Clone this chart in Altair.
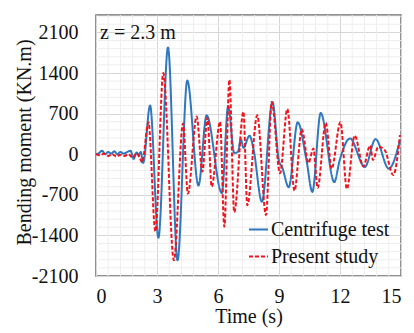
import altair as alt
import pandas as pd

# ---- data ----
series_names = ["Centrifuge test", "Present study"]

cent_t = [0.0, 0.15, 0.3, 0.45, 0.6, 0.75, 0.9, 1.05, 1.2, 1.35, 1.55, 1.7, 1.85, 2.0, 2.1, 2.2, 2.32,
          2.66, 3.07, 3.54, 4.01, 4.49, 5.04, 5.44, 6.19, 6.5, 6.8, 6.98, 7.12, 7.25, 7.55, 7.75,
          8.16, 8.68, 9.0, 9.15, 9.48, 9.92, 10.35, 10.64, 11.05, 11.72, 11.98, 12.49, 13.22,
          13.75, 14.4, 14.95]
cent_v = [0, 20, 60, 0, 40, 10, 50, 0, 40, 10, 40, 60, -80, 30, -20, 40, -150,
          840, -1440, 1840, -1830, 1270, -540, 670, -670, 830, 20, 40, 260, 110, 320, 80,
          -820, 900, -120, -220, -570, 550, -100, -650, 710, -480, -110, 270, -220,
          260, -250, 240]

pres_t = [0.0, 0.2, 0.4, 0.6, 0.8, 1.0, 1.2, 1.4, 1.6, 1.8, 2.0, 2.15, 2.27,
          2.58, 2.92, 3.31, 3.83, 4.28, 4.52, 4.95, 5.23, 5.48, 5.69, 6.1, 6.31, 6.56, 6.8,
          7.25, 7.44, 7.93, 8.36, 8.64, 9.05, 9.41, 9.76, 10.12, 10.45, 10.69, 10.9, 11.3,
          11.59, 12.02, 12.34, 12.72, 13.15, 13.48, 13.62, 13.89, 14.2, 14.62, 14.95]
pres_v = [0, -20, 10, -30, 0, -40, -10, -30, 0, -60, 20, -60, -140,
          550, -1330, 1400, -1830, 530, -680, 650, -300, 630, -560, 560, -1250, 1280, -1000,
          730, -880, 670, -1050, 900, -330, 780, -630, 430, -150, 100, -580, 540,
          -250, 550, -600, 320, -210, 150, -100, 130, 70, -360, 330]

x_ticks = [0, 3, 6, 9, 12, 15]
y_ticks = [-2100, -1400, -700, 0, 700, 1400, 2100]
x_minor = [0.6, 1.2, 1.8, 2.4, 3.6, 4.2, 4.8, 5.4, 6.6, 7.2, 7.8, 8.4,
           9.6, 10.2, 10.8, 11.4, 12.6, 13.2, 13.8, 14.4]
y_minor = [-1960, -1820, -1680, -1540, -1260, -1120, -980, -840, -560, -420, -280, -140,
           140, 280, 420, 560, 840, 980, 1120, 1260, 1540, 1680, 1820, 1960, 2240, 2380]

annotation = ["z = 2.3 m"]

df = pd.concat([
    pd.DataFrame({"t": cent_t, "v": cent_v, "series": series_names[0]}),
    pd.DataFrame({"t": pres_t, "v": pres_v, "series": series_names[1]}),
])

FONT = "Liberation Serif"
xscale = alt.Scale(domain=[0, 15], nice=False, zero=False)
yscale = alt.Scale(domain=[-2100, 2400], nice=False, zero=False)

xaxis = alt.Axis(
    values=x_ticks, labelExpr="'' + datum.value", grid=True, gridColor="#d6d6d6", ticks=False,
    domain=False, title="Time (s)", labelFontSize=20, labelPadding=10, labelColor="#111",
    labelFont=FONT, titleFont=FONT, titleFontSize=20, titleFontWeight="normal", titleColor="#111",
    titleBaseline="top", titleY=30)
yaxis = alt.Axis(
    values=y_ticks, labelExpr="'' + datum.value", grid=True, gridColor="#d6d6d6", ticks=False,
    domain=False, title="Bending moment (KN.m)", labelFontSize=20, labelPadding=18,
    labelColor="#111", labelFont=FONT, titleFont=FONT, titleFontSize=20,
    titleFontWeight="normal", titleColor="#111",
    titleAngle=-90, titleBaseline="middle", titleX=-72, titleY=127)

minor_x = alt.Chart(pd.DataFrame({"t": x_minor})).mark_rule(color="#eeeeee", strokeWidth=1).encode(
    x=alt.X("t:Q", scale=xscale, axis=xaxis))
minor_y = alt.Chart(pd.DataFrame({"v": y_minor})).mark_rule(color="#eeeeee", strokeWidth=1).encode(
    y=alt.Y("v:Q", scale=yscale, axis=yaxis))

leg = dict(title=None, orient="none", legendX=152, legendY=204,
           symbolType="stroke", symbolSize=361, symbolStrokeWidth=2,
           labelFontSize=20, labelFont=FONT, labelColor="#111",
           labelOffset=2, rowPadding=6, padding=0)

lines = alt.Chart(df).mark_line(strokeWidth=2, interpolate="monotone").encode(
    x=alt.X("t:Q", scale=xscale, axis=xaxis),
    y=alt.Y("v:Q", scale=yscale, axis=yaxis),
    color=alt.Color("series:N", scale=alt.Scale(domain=series_names, range=["#2f78bd", "#f0141e"]),
                    legend=alt.Legend(**leg)),
    strokeDash=alt.StrokeDash("series:N", scale=alt.Scale(domain=series_names, range=[[1, 0], [4, 2]]),
                              legend=alt.Legend(**leg)),
    order=alt.Order("t:Q"),
)

text = alt.Chart(pd.DataFrame({"label": annotation, "t": [0.2], "v": [1980]})).mark_text(
    align="left", baseline="alphabetic", fontSize=20, font=FONT, color="#111"
).encode(x=alt.X("t:Q", scale=xscale, axis=xaxis), y=alt.Y("v:Q", scale=yscale, axis=yaxis),
         text="label:N")

chart = alt.layer(minor_x, minor_y, lines, text).properties(
    width=305, height=261,
    autosize=alt.AutoSizeParams(type="none"),
    padding={"left": 96, "top": 15, "right": 13, "bottom": 57},
).configure(font=FONT).configure_axis(
    labelFont=FONT, titleFont=FONT
).configure_legend(labelFont=FONT).configure_view(stroke="#6e6e6e", strokeWidth=1.5)

chart.save("out.html", embed_options={"renderer": "svg", "actions": False})
